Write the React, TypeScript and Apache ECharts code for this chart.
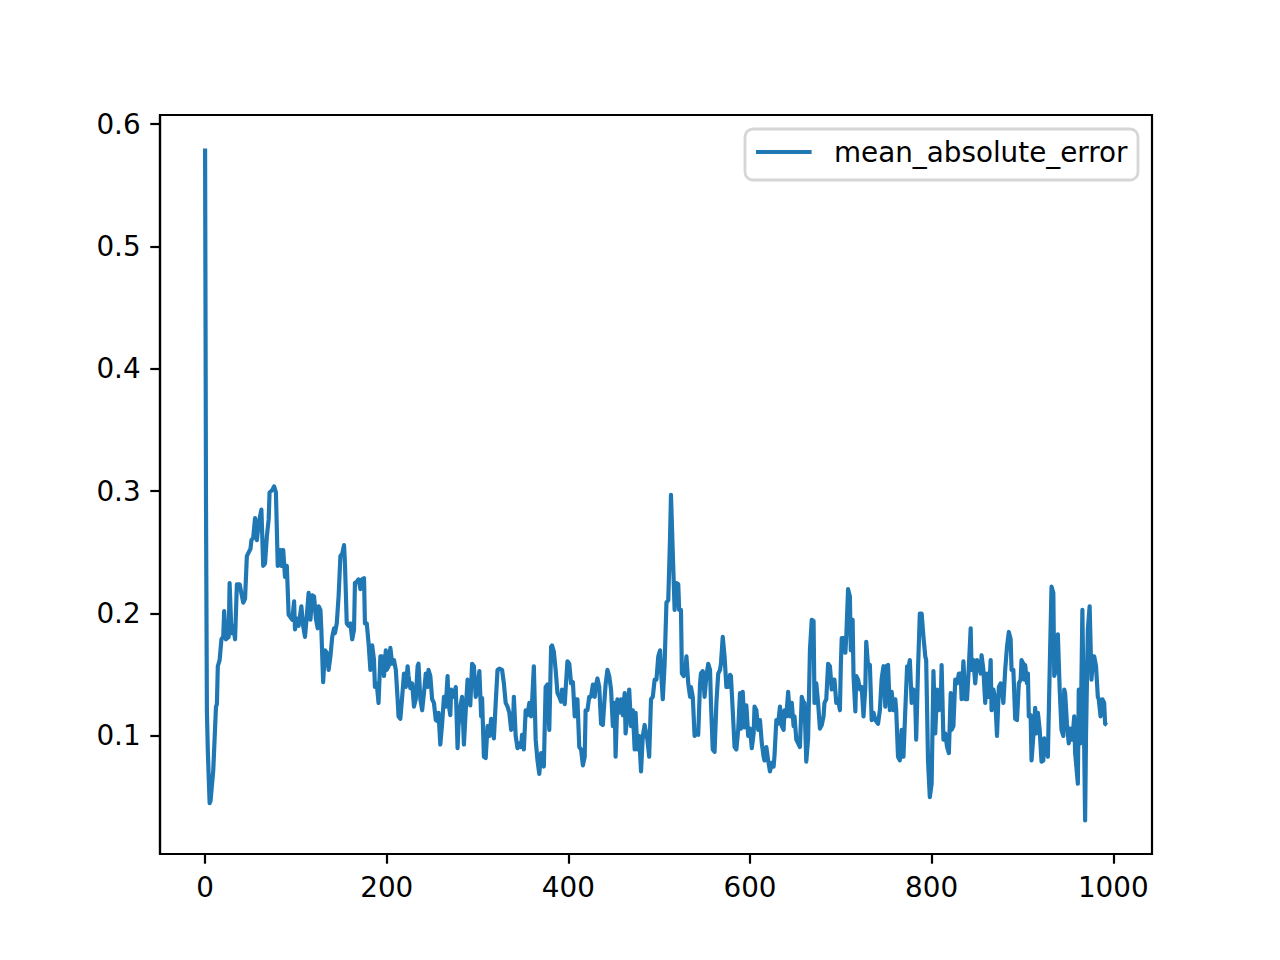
import React, { useEffect, useRef } from "react";
import * as echarts from "echarts";

const seriesName = "mean_absolute_error";

const steps = [
  0, 1, 2, 3, 4, 5, 6, 9, 12, 13, 14, 16, 18, 20, 21, 23, 26, 27, 29, 31, 33, 35, 38, 42, 44, 46, 48, 50, 51, 53,
  55, 57, 59, 62, 64, 66, 68, 70, 71, 74, 76, 78, 80, 83, 84, 86, 88, 90, 92, 96, 98, 99, 101, 103, 106, 108, 110,
  112, 114, 116, 118, 120, 122, 124, 125, 127, 128, 130, 132, 134, 136, 138, 140, 142, 143, 145, 147, 149, 151, 153,
  154, 156, 158, 160, 162, 164, 165, 167, 169, 171, 173, 175, 176, 178, 180, 182, 184, 186, 187, 189, 191, 193, 195,
  197, 199, 200, 202, 204, 206, 208, 210, 212, 213, 215, 217, 219, 221, 223, 224, 226, 228, 230, 232, 234, 235, 237,
  239, 241, 243, 245, 246, 248, 250, 252, 254, 256, 257, 259, 261, 263, 265, 267, 268, 270, 271, 274, 276, 278, 279,
  281, 283, 285, 287, 289, 290, 292, 294, 296, 298, 300, 302, 304, 305, 307, 309, 311, 313, 315, 317, 318, 320, 322,
  324, 327, 329, 331, 333, 335, 337, 339, 340, 342, 344, 346, 348, 349, 351, 353, 355, 357, 359, 360, 362, 364, 366,
  368, 370, 371, 373, 375, 377, 379, 381, 382, 384, 386, 388, 390, 392, 393, 396, 397, 399, 401, 403, 405, 407, 408,
  410, 412, 414, 416, 418, 419, 421, 423, 425, 427, 429, 430, 432, 434, 436, 438, 440, 441, 443, 445, 447, 449, 451,
  452, 454, 456, 458, 460, 462, 463, 465, 467, 469, 471, 473, 474, 476, 478, 480, 482, 484, 485, 487, 489, 491, 493,
  495, 497, 499, 501, 502, 504, 506, 508, 510, 512, 513, 515, 517, 519, 521, 522, 524, 525, 527, 529, 530, 532, 534,
  535, 537, 539, 541, 543, 545, 546, 548, 550, 552, 554, 556, 557, 559, 561, 563, 565, 567, 568, 570, 572, 574, 576,
  578, 579, 581, 583, 585, 587, 589, 590, 592, 594, 596, 598, 600, 602, 604, 605, 607, 609, 611, 613, 615, 616, 618,
  620, 622, 624, 626, 627, 629, 631, 633, 635, 637, 638, 640, 642, 644, 646, 648, 649, 651, 653, 655, 657, 659, 660,
  662, 664, 666, 668, 670, 671, 673, 675, 677, 679, 681, 682, 684, 686, 688, 690, 692, 693, 695, 697, 699, 700, 701,
  703, 705, 706, 708, 710, 711, 713, 714, 716, 717, 719, 721, 723, 725, 727, 728, 730, 732, 734, 736, 738, 739, 741,
  743, 745, 747, 749, 750, 752, 754, 756, 758, 760, 761, 763, 765, 767, 769, 771, 773, 774, 776, 778, 780, 782, 783,
  785, 787, 789, 791, 793, 794, 796, 798, 800, 802, 804, 806, 808, 810, 811, 813, 815, 817, 819, 821, 822, 824, 826,
  828, 830, 832, 833, 835, 837, 839, 841, 843, 844, 846, 848, 850, 852, 854, 855, 857, 859, 861, 863, 865, 866, 868,
  870, 872, 874, 876, 877, 879, 881, 883, 885, 887, 888, 890, 892, 894, 896, 898, 899, 901, 902, 903, 905, 906, 907,
  909, 910, 912, 914, 915, 917, 919, 921, 923, 924, 926, 928, 930, 932, 934, 935, 937, 939, 941, 943, 945, 946, 947,
  949, 951, 953, 955, 957, 958, 959, 961, 962, 964, 966, 968, 969, 970, 972, 974, 976, 978, 979, 981, 983, 984, 986,
  988, 990, 991, 993,
];

const mae = [
  0.58, 0.29, 0.12, 0.088, 0.066, 0.045, 0.047, 0.072, 0.124, 0.126, 0.157, 0.162, 0.179, 0.181, 0.202, 0.179, 0.181,
  0.225, 0.184, 0.19, 0.179, 0.224, 0.224, 0.209, 0.212, 0.247, 0.25, 0.253, 0.26, 0.262, 0.278, 0.26, 0.274, 0.285,
  0.239, 0.241, 0.263, 0.277, 0.299, 0.301, 0.304, 0.299, 0.239, 0.252, 0.239, 0.252, 0.23, 0.239, 0.199, 0.195, 0.21,
  0.187, 0.196, 0.19, 0.206, 0.19, 0.181, 0.198, 0.217, 0.195, 0.215, 0.214, 0.196, 0.188, 0.206, 0.203, 0.187, 0.144,
  0.17, 0.168, 0.154, 0.165, 0.181, 0.188, 0.184, 0.192, 0.214, 0.247, 0.249, 0.256, 0.241, 0.192, 0.19, 0.192, 0.179,
  0.187, 0.225, 0.226, 0.228, 0.22, 0.228, 0.229, 0.192, 0.192, 0.176, 0.154, 0.174, 0.162, 0.14, 0.143, 0.127, 0.165,
  0.165, 0.149, 0.17, 0.154, 0.157, 0.172, 0.159, 0.162, 0.154, 0.13, 0.116, 0.114, 0.132, 0.151, 0.14, 0.157, 0.149,
  0.139, 0.143, 0.124, 0.13, 0.157, 0.159, 0.13, 0.121, 0.135, 0.151, 0.14, 0.154, 0.149, 0.13, 0.127, 0.113, 0.112,
  0.119, 0.093, 0.11, 0.132, 0.124, 0.149, 0.127, 0.117, 0.138, 0.132, 0.14, 0.09, 0.108, 0.124, 0.132, 0.093, 0.121,
  0.146, 0.143, 0.125, 0.159, 0.157, 0.132, 0.138, 0.153, 0.116, 0.131, 0.083, 0.082, 0.108, 0.1, 0.114, 0.102, 0.098,
  0.127, 0.154, 0.155, 0.154, 0.143, 0.127, 0.124, 0.119, 0.105, 0.108, 0.132, 0.1, 0.09, 0.094, 0.091, 0.101, 0.089,
  0.121, 0.117, 0.127, 0.116, 0.127, 0.157, 0.097, 0.08, 0.069, 0.086, 0.083, 0.075, 0.14, 0.142, 0.105, 0.173, 0.174,
  0.169, 0.154, 0.135, 0.132, 0.128, 0.138, 0.126, 0.138, 0.161, 0.159, 0.143, 0.144, 0.116, 0.13, 0.13, 0.091, 0.089,
  0.076, 0.083, 0.121, 0.121, 0.132, 0.132, 0.142, 0.132, 0.14, 0.147, 0.14, 0.11, 0.109, 0.132, 0.142, 0.154, 0.149,
  0.138, 0.108, 0.127, 0.083, 0.13, 0.119, 0.13, 0.117, 0.135, 0.102, 0.116, 0.138, 0.108, 0.121, 0.089, 0.119, 0.089,
  0.1, 0.071, 0.1, 0.109, 0.105, 0.097, 0.083, 0.13, 0.132, 0.146, 0.146, 0.165, 0.17, 0.154, 0.13, 0.159, 0.209,
  0.211, 0.263, 0.297, 0.249, 0.203, 0.225, 0.224, 0.203, 0.203, 0.151, 0.149, 0.154, 0.165, 0.143, 0.132, 0.14,
  0.132, 0.1, 0.102, 0.101, 0.143, 0.151, 0.153, 0.132, 0.149, 0.159, 0.154, 0.127, 0.089, 0.087, 0.127, 0.151, 0.154,
  0.159, 0.181, 0.165, 0.14, 0.14, 0.15, 0.149, 0.121, 0.091, 0.089, 0.105, 0.135, 0.106, 0.136, 0.107, 0.125, 0.1,
  0.106, 0.09, 0.102, 0.124, 0.121, 0.105, 0.113, 0.094, 0.083, 0.08, 0.091, 0.08, 0.071, 0.078, 0.075, 0.084, 0.113,
  0.11, 0.124, 0.108, 0.105, 0.121, 0.116, 0.136, 0.116, 0.127, 0.108, 0.116, 0.097, 0.094, 0.091, 0.132, 0.127,
  0.127, 0.079, 0.098, 0.17, 0.195, 0.194, 0.127, 0.143, 0.127, 0.106, 0.109, 0.116, 0.127, 0.13, 0.159, 0.157, 0.138,
  0.146, 0.146, 0.127, 0.13, 0.121, 0.157, 0.18, 0.18, 0.168, 0.181, 0.22, 0.214, 0.17, 0.195, 0.149, 0.12, 0.149,
  0.146, 0.138, 0.14, 0.116, 0.14, 0.177, 0.157, 0.158, 0.113, 0.119, 0.113, 0.112, 0.11, 0.121, 0.147, 0.157, 0.124,
  0.157, 0.158, 0.121, 0.136, 0.121, 0.13, 0.121, 0.083, 0.08, 0.105, 0.083, 0.121, 0.157, 0.154, 0.162, 0.127, 0.138,
  0.127, 0.097, 0.154, 0.2, 0.2, 0.181, 0.165, 0.162, 0.08, 0.05, 0.061, 0.153, 0.102, 0.138, 0.121, 0.127, 0.158,
  0.097, 0.102, 0.091, 0.086, 0.135, 0.105, 0.108, 0.146, 0.143, 0.151, 0.151, 0.13, 0.161, 0.13, 0.13, 0.157, 0.188,
  0.154, 0.162, 0.143, 0.162, 0.159, 0.151, 0.166, 0.154, 0.127, 0.151, 0.132, 0.162, 0.121, 0.138, 0.13, 0.1, 0.14,
  0.143, 0.14, 0.127, 0.154, 0.173, 0.185, 0.179, 0.154, 0.154, 0.114, 0.113, 0.143, 0.146, 0.162, 0.159, 0.146,
  0.158, 0.143, 0.151, 0.116, 0.117, 0.08, 0.1, 0.123, 0.102, 0.119, 0.105, 0.079, 0.08, 0.098, 0.094, 0.083, 0.154,
  0.222, 0.217, 0.149, 0.154, 0.183, 0.138, 0.105, 0.1, 0.138, 0.135, 0.11, 0.094, 0.106, 0.097, 0.116, 0.086, 0.078,
  0.061, 0.138, 0.094, 0.203, 0.091, 0.031, 0.1, 0.187, 0.206, 0.146, 0.165, 0.165, 0.157, 0.132, 0.13, 0.116, 0.13,
  0.127, 0.11, 0.109,
];

const xTicks = [0, 200, 400, 600, 800, 1000];
const yTicks = [0.1, 0.2, 0.3, 0.4, 0.5, 0.6];

const FONT = "DejaVu Sans";
const FS = 27.8;

export default function App() {
  const ref = useRef<HTMLDivElement>(null);

  useEffect(() => {
    document.body.style.margin = "0";
    const chart = echarts.init(ref.current as HTMLDivElement, null, { renderer: "svg" });
    const data = steps.map((s, i) => [s, mae[i]]);
    const xMin = -0.05 * 993;
    const xMax = 993 * 1.05;
    const yMin = 0.031 - 0.05 * (0.58 - 0.031);
    const yMax = 0.58 + 0.05 * (0.58 - 0.031);

    chart.setOption({
      animation: false,
      backgroundColor: "#ffffff",
      grid: {
        left: 160,
        top: 115,
        width: 992,
        height: 739,
        show: true,
        borderColor: "#000000",
        borderWidth: 2.2,
        containLabel: false,
      },
      xAxis: {
        type: "value",
        min: xMin,
        max: xMax,
        axisLine: { show: true, onZero: false, lineStyle: { color: "#000", width: 2.2 } },
        axisTick: {
          show: true,
          inside: false,
          length: 9.7,
          lineStyle: { color: "#000", width: 2.2 },
          customValues: xTicks,
        },
        axisLabel: {
          show: true,
          margin: 19,
          color: "#000",
          fontFamily: FONT,
          fontSize: FS,
          customValues: xTicks,
          formatter: (v: number) => String(v),
        },
        splitLine: { show: false },
      },
      yAxis: {
        type: "value",
        min: yMin,
        max: yMax,
        axisLine: { show: true, onZero: false, lineStyle: { color: "#000", width: 2.2 } },
        axisTick: {
          show: true,
          inside: false,
          length: 9.7,
          lineStyle: { color: "#000", width: 2.2 },
          customValues: yTicks,
        },
        axisLabel: {
          show: true,
          margin: 19.4,
          color: "#000",
          fontFamily: FONT,
          fontSize: FS,
          customValues: yTicks,
          formatter: (v: number) => v.toFixed(1),
        },
        splitLine: { show: false },
      },
      series: [
        {
          name: seriesName,
          type: "line",
          data,
          showSymbol: false,
          symbol: "none",
          sampling: undefined,
          lineStyle: { color: "#1f77b4", width: 4.17, join: "round", cap: "butt" },
          clip: true,
          z: 2,
        },
      ],
      graphic: [
        {
          type: "group",
          z: 100,
          children: [
            {
              type: "rect",
              shape: { x: 745, y: 129, width: 393, height: 51, r: 8 },
              style: { fill: "rgba(255,255,255,0.8)", stroke: "#d6d6d6", lineWidth: 2.8 },
            },
            {
              type: "line",
              shape: { x1: 756, y1: 152, x2: 811.6, y2: 152 },
              style: { stroke: "#1f77b4", lineWidth: 4.17 },
            },
            {
              type: "text",
              x: 834,
              y: 152.4,
              style: {
                text: seriesName,
                fill: "#000",
                fontFamily: FONT,
                fontSize: FS,
                verticalAlign: "middle",
                align: "left",
              },
            },
          ],
        },
      ],
    });

    return () => chart.dispose();
  }, []);

  return <div ref={ref} style={{ width: 1280, height: 960, background: "#ffffff" }} />;
}
